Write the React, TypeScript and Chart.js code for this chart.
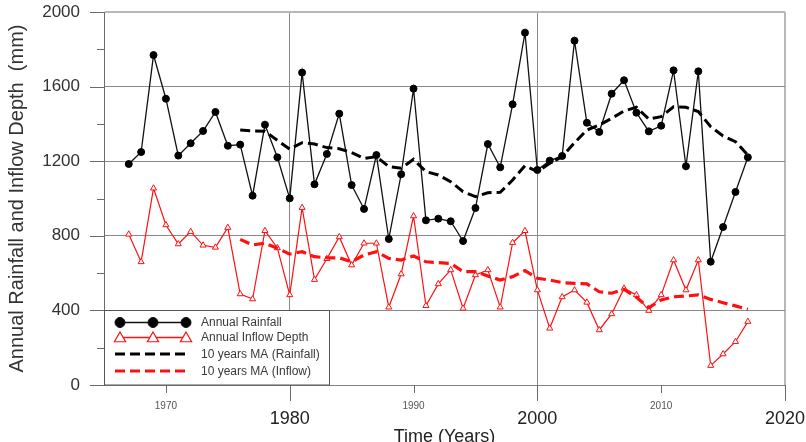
import { useEffect, useRef } from 'react';
import { Chart, registerables } from 'chart.js';

Chart.register(...registerables);

// Annual series, 1967–2017
const years = [
  1967, 1968, 1969, 1970, 1971, 1972, 1973, 1974, 1975, 1976,
  1977, 1978, 1979, 1980, 1981, 1982, 1983, 1984, 1985, 1986,
  1987, 1988, 1989, 1990, 1991, 1992, 1993, 1994, 1995, 1996,
  1997, 1998, 1999, 2000, 2001, 2002, 2003, 2004, 2005, 2006,
  2007, 2008, 2009, 2010, 2011, 2012, 2013, 2014, 2015, 2016,
  2017,
];

const rainfall = [
  1185, 1249, 1769, 1535, 1230, 1296, 1362, 1464, 1283, 1289,
  1015, 1396, 1221, 1001, 1675, 1076, 1239, 1455, 1072, 944,
  1233, 783, 1130, 1589, 883, 892, 878, 772, 949, 1292,
  1167, 1505, 1889, 1153, 1203, 1228, 1846, 1406, 1357, 1562,
  1634, 1460, 1360, 1390, 1687, 1173, 1682, 661, 847, 1035,
  1221,
];

const inflow = [
  808, 660, 1055, 858, 756, 822, 749, 738, 844, 488,
  461, 827, 735, 483, 951, 565, 677, 794, 643, 760,
  760, 417, 595, 906, 425, 542, 617, 411, 590, 617,
  417, 763, 827, 509, 304, 472, 509, 443, 295, 381,
  518, 483, 399, 483, 670, 509, 670, 104, 166, 232,
  340,
];

// 10-year moving averages, 1976–2017
const maYears = [
  1976, 1977, 1978, 1979, 1980, 1981, 1982, 1983, 1984, 1985,
  1986, 1987, 1988, 1989, 1990, 1991, 1992, 1993, 1994, 1995,
  1996, 1997, 1998, 1999, 2000, 2001, 2002, 2003, 2004, 2005,
  2006, 2007, 2008, 2009, 2010, 2011, 2012, 2013, 2014, 2015,
  2016, 2017,
];

const rainfallMA = [
  1367, 1362, 1360, 1312, 1265, 1299, 1292, 1273, 1267, 1246,
  1215, 1224, 1171, 1162, 1210, 1144, 1126, 1090, 1037, 1010,
  1031, 1033, 1099, 1176, 1144, 1189, 1224, 1299, 1367, 1394,
  1430, 1469, 1489, 1426, 1439, 1492, 1489, 1466, 1385, 1335,
  1305, 1233,
];

const inflowMA = [
  781, 751, 760, 733, 702, 715, 688, 682, 682, 661,
  697, 715, 679, 670, 692, 661, 656, 652, 608, 608,
  584, 563, 581, 613, 572, 563, 549, 545, 542, 500,
  492, 513, 470, 415, 456, 473, 477, 483, 459, 441,
  424, 406,
];

const xTickValues = [1970, 1980, 1990, 2000, 2010, 2020];
const legendLabels = [
  'Annual Rainfall',
  'Annual Inflow Depth',
  '10 years MA (Rainfall)',
  '10 years MA (Inflow)',
];

const FONT = '"Liberation Sans", Arial, Helvetica, sans-serif';
const RED = '#ff1010';

const toPoints = (xs: number[], ys: number[]) => xs.map((x, i) => ({ x, y: ys[i] }));
const isMajorYear = (v: number) => v % 20 === 0;

function drawMarker(
  ctx: CanvasRenderingContext2D,
  style: string,
  x: number,
  y: number,
  r: number,
  fill: string,
  stroke: string,
  lw: number,
) {
  ctx.beginPath();
  if (style === 'triangle') {
    let a = 0;
    ctx.moveTo(x + Math.sin(a) * r, y - Math.cos(a) * r);
    a += (2 * Math.PI) / 3;
    ctx.lineTo(x + Math.sin(a) * r, y - Math.cos(a) * r);
    a += (2 * Math.PI) / 3;
    ctx.lineTo(x + Math.sin(a) * r, y - Math.cos(a) * r);
    ctx.closePath();
  } else {
    ctx.arc(x, y, r, 0, Math.PI * 2);
  }
  ctx.fillStyle = fill;
  ctx.fill();
  ctx.lineWidth = lw;
  ctx.strokeStyle = stroke;
  ctx.stroke();
}

// Outside tick marks: long at labelled majors, short at minors
const axisMarks = {
  id: 'axisMarks',
  afterDraw(chart: any) {
    const { ctx } = chart;
    const x = chart.scales.x;
    const y = chart.scales.y;
    ctx.save();
    ctx.strokeStyle = '#6a6a6a';
    ctx.lineWidth = 1;
    for (const t of x.ticks) {
      const px = Math.round(x.getPixelForValue(t.value)) + 0.5;
      const len = isMajorYear(t.value) ? 16 : 8;
      ctx.beginPath();
      ctx.moveTo(px, x.top);
      ctx.lineTo(px, x.top + len);
      ctx.stroke();
    }
    const yt = y.ticks.map((t: any) => t.value);
    for (let i = 0; i < yt.length; i++) {
      const py = Math.round(y.getPixelForValue(yt[i])) + 0.5;
      ctx.beginPath();
      ctx.moveTo(y.right - 14, py);
      ctx.lineTo(y.right, py);
      ctx.stroke();
      if (i < yt.length - 1) {
        const mid = Math.round(y.getPixelForValue((yt[i] + yt[i + 1]) / 2)) + 0.5;
        ctx.beginPath();
        ctx.moveTo(y.right - 7, mid);
        ctx.lineTo(y.right, mid);
        ctx.stroke();
      }
    }
    ctx.restore();
  },
};

// Boxed legend in the lower-left corner of the plot
const boxedLegend = {
  id: 'boxedLegend',
  afterDraw(chart: any) {
    const { ctx, chartArea: a } = chart;
    const w = 225;
    const h = 75;
    const bx = a.left;
    const by = a.bottom - h;
    ctx.save();
    ctx.fillStyle = '#ffffff';
    ctx.fillRect(bx, by, w, h);
    ctx.strokeStyle = '#555555';
    ctx.lineWidth = 1;
    ctx.strokeRect(bx + 0.5, by + 0.5, w, h - 0.5);

    const rows = [12.5, 27.5, 44, 61];
    ctx.font = `12px ${FONT}`;
    ctx.textBaseline = 'middle';
    ctx.textAlign = 'left';
    chart.data.datasets.forEach((ds: any, i: number) => {
      const y = by + rows[i];
      ctx.save();
      ctx.strokeStyle = ds.borderColor;
      if (ds.borderDash) {
        ctx.lineWidth = ds.borderWidth;
        ctx.setLineDash(ds.borderDash);
        ctx.beginPath();
        ctx.moveTo(bx + 11, y);
        ctx.lineTo(bx + 83, y);
        ctx.stroke();
      } else {
        ctx.lineWidth = 1.3;
        ctx.beginPath();
        ctx.moveTo(bx + 16, y);
        ctx.lineTo(bx + 82, y);
        ctx.stroke();
        for (const mx of [16, 49, 82]) {
          if (ds.pointStyle === 'triangle') {
            drawMarker(ctx, 'triangle', bx + mx, y + 1, 6.5, '#ffffff', ds.borderColor, 1.2);
          } else {
            drawMarker(ctx, 'circle', bx + mx, y, 5, ds.pointBackgroundColor, ds.borderColor, 1);
          }
        }
      }
      ctx.restore();
      ctx.fillStyle = '#3a3a3a';
      ctx.fillText(legendLabels[i], bx + 97, y + 0.5);
    });
    ctx.restore();
  },
};

export default function App() {
  const canvasRef = useRef<HTMLCanvasElement | null>(null);

  useEffect(() => {
    document.body.style.margin = '0';
    document.body.style.overflow = 'hidden';
    const canvas = canvasRef.current;
    if (!canvas) return;
    Chart.defaults.font.family = FONT;

    const chart = new Chart(canvas, {
      type: 'line',
      data: {
        datasets: [
          {
            label: legendLabels[0],
            data: toPoints(years, rainfall),
            borderColor: '#111111',
            borderWidth: 1.3,
            pointStyle: 'circle',
            pointRadius: 3.5,
            pointBackgroundColor: '#000000',
            pointBorderColor: '#000000',
            pointBorderWidth: 1,
            order: 2,
          },
          {
            label: legendLabels[1],
            data: toPoints(years, inflow),
            borderColor: RED,
            borderWidth: 1.2,
            pointStyle: 'triangle',
            pointRadius: 3.5,
            pointBackgroundColor: '#ffffff',
            pointBorderColor: RED,
            pointBorderWidth: 1,
            order: 3,
          },
          {
            label: legendLabels[2],
            data: toPoints(maYears, rainfallMA),
            borderColor: '#000000',
            borderWidth: 3,
            borderDash: [10, 5],
            pointRadius: 0,
            order: 0,
          },
          {
            label: legendLabels[3],
            data: toPoints(maYears, inflowMA),
            borderColor: RED,
            borderWidth: 3.2,
            borderDash: [10, 5],
            pointRadius: 0,
            order: 1,
          },
        ],
      },
      options: {
        animation: false,
        responsive: false,
        maintainAspectRatio: false,
        layout: { padding: { top: 12, right: 21, left: 0, bottom: 0 } },
        plugins: {
          legend: { display: false },
          tooltip: { enabled: false },
        },
        elements: { line: { tension: 0 } },
        scales: {
          x: {
            type: 'linear',
            min: 1965,
            max: 2020,
            afterBuildTicks: (s: any) => {
              s.ticks = xTickValues.map((v) => ({ value: v }));
            },
            afterFit: (s: any) => {
              s.height = 57;
            },
            grid: {
              drawTicks: false,
              color: (c: any) => {
                const v = c.tick?.value;
                if (v === 2020) return '#b8b8b8';
                if (v === 1980 || v === 2000) return '#8a8a8a';
                return 'rgba(0,0,0,0)';
              },
              lineWidth: (c: any) => (c.tick?.value === 2020 ? 2 : 1),
            },
            border: { color: '#808080', width: 1 },
            ticks: {
              padding: 0,
              autoSkip: false,
              maxRotation: 0,
              callback: (v: any) => String(v),
              color: (c: any) => (c.tick && isMajorYear(c.tick.value) ? '#222222' : '#555555'),
              font: (c: any) =>
                c.tick && isMajorYear(c.tick.value)
                  ? { size: 18, lineHeight: '68px' }
                  : { size: 10, lineHeight: '42px' },
            },
            title: {
              display: true,
              text: 'Time (Years)',
              color: '#222222',
              font: { size: 18, lineHeight: 0.5 },
              padding: 0,
            },
          },
          y: {
            min: 0,
            max: 2000,
            afterFit: (s: any) => {
              s.width = 104;
            },
            grid: {
              drawTicks: true,
              tickLength: 24,
              tickColor: 'rgba(0,0,0,0)',
              color: (c: any) => {
                const v = c.tick?.value;
                if (v === 0) return 'rgba(0,0,0,0)';
                if (v === 2000) return '#b8b8b8';
                return '#8a8a8a';
              },
              lineWidth: (c: any) => (c.tick?.value === 2000 ? 2 : 1),
            },
            border: { color: '#6a6a6a', width: 1 },
            ticks: {
              stepSize: 400,
              padding: 0,
              color: '#333333',
              font: { size: 17 },
              callback: (v: any) => String(v),
            },
            title: {
              display: true,
              text: 'Annual Rainfall and Inflow Depth  (mm)',
              color: '#333333',
              font: { size: 20 },
              padding: { top: 5, bottom: 0 },
            },
          },
        },
      },
      plugins: [axisMarks, boxedLegend],
    } as any);

    return () => chart.destroy();
  }, []);

  return (
    <div style={{ width: 806, height: 442 }}>
      <canvas ref={canvasRef} width={806} height={442} style={{ display: 'block' }} />
    </div>
  );
}
